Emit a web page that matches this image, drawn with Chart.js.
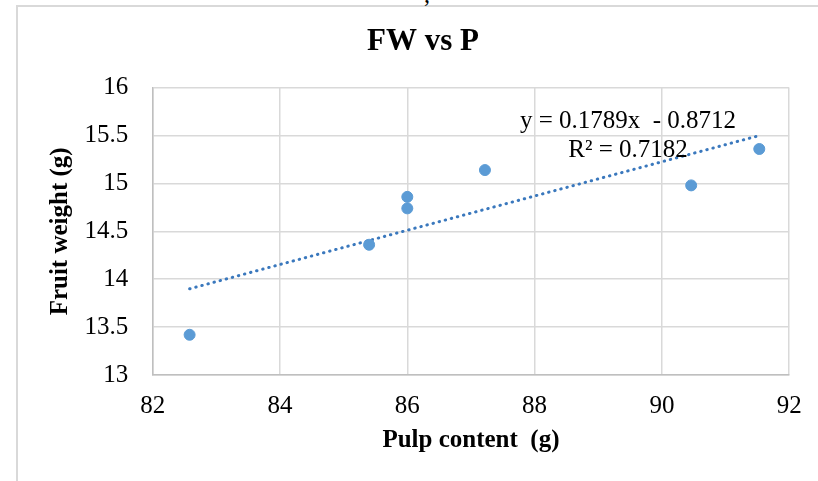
<!DOCTYPE html>
<html>
<head>
<meta charset="utf-8">
<script src="https://cdn.jsdelivr.net/npm/chart.js@4.4.1/dist/chart.umd.min.js"></script>
<style>
  html, body { margin: 0; padding: 0; background: #fff; overflow: hidden; }
  #wrap { position: relative; width: 818px; height: 481px; }
  #frame {
    position: absolute; left: 16px; top: 5px; right: -10px; bottom: -10px;
    border-left: 2px solid #d9d9d9; border-top: 2px solid #d9d9d9;
  }
  #stray {
    position: absolute; left: 424px; top: -19px;
    font: 24px "Liberation Serif", serif; color: #000;
  }
  canvas { position: absolute; left: 0; top: 0; }
</style>
</head>
<body>
<div id="wrap">
  <div id="frame"></div>
  <div id="stray">,</div>
  <canvas id="fwChart" width="818" height="481"></canvas>
</div>
<script>
// values
const pulpContent = [82.58, 85.40, 86.00, 86.00, 87.22, 90.46, 91.53];
const fruitWeight = [13.42, 14.36, 14.86, 14.74, 15.14, 14.98, 15.36];
// trendline end points (as drawn)
const trendX = [82.58, 91.53];
const trendY = [13.90, 15.50];
// axis ticks
const xTicks = [82, 84, 86, 88, 90, 92];
const yTicks = [13, 13.5, 14, 14.5, 15, 15.5, 16];
const eqLines = ['y = 0.1789x  - 0.8712', 'R\u00b2 = 0.7182'];

const serif = '"Liberation Serif", "Times New Roman", serif';

const trendLabel = {
    id: 'trendLabel',
    afterDatasetsDraw(chart) {
        const ctx = chart.ctx;
        ctx.save();
        ctx.font = '25px ' + serif;
        ctx.fillStyle = '#000';
        ctx.textAlign = 'center';
        ctx.textBaseline = 'middle';
        ctx.fillText(eqLines[0], 628, 121);
        ctx.fillText(eqLines[1], 628, 150);
        ctx.restore();
    }
};

const ctx = document.getElementById('fwChart').getContext('2d');
new Chart(ctx, {
    type: 'scatter',
    data: {
        datasets: [
            {
                label: 'FW',
                data: pulpContent.map((x, i) => ({x: x, y: fruitWeight[i]})),
                backgroundColor: '#5b9bd5',
                borderColor: '#5b9bd5',
                borderWidth: 1,
                pointRadius: 5.5,
                order: 1
            },
            {
                label: 'Trend',
                data: trendX.map((x, i) => ({x: x, y: trendY[i]})),
                showLine: true,
                borderColor: '#3a78bd',
                borderWidth: 3,
                borderDash: [0.5, 5.8],
                borderCapStyle: 'round',
                pointRadius: 0,
                fill: false,
                order: 2
            }
        ]
    },
    options: {
        responsive: false,
        animation: false,
        layout: { padding: { left: 53.3, right: 25.3, top: 0, bottom: 0 } },
        plugins: {
            legend: { display: false },
            tooltip: { enabled: false },
            title: {
                display: true,
                text: 'FW vs P',
                color: '#000',
                font: { family: serif, size: 31, weight: 'bold', lineHeight: 1.2 },
                padding: { top: 23.1, bottom: 27.4 }
            }
        },
        scales: {
            x: {
                type: 'linear',
                min: 82,
                max: 92,
                afterBuildTicks: s => { s.ticks = xTicks.map(v => ({value: v})); },
                afterFit: s => { s.height = 106; },
                grid: { color: '#d9d9d9', lineWidth: 1.5, drawTicks: false },
                border: { color: '#bfbfbf', width: 1.5 },
                ticks: {
                    color: '#000',
                    padding: 16.3,
                    font: { family: serif, size: 25, lineHeight: 1.2 },
                    callback: v => String(v)
                },
                title: {
                    display: true,
                    text: 'Pulp content  (g)',
                    color: '#000',
                    font: { family: serif, size: 25, weight: 'bold', lineHeight: 1.2 },
                    padding: { top: 0, bottom: 25.5 }
                }
            },
            y: {
                type: 'linear',
                min: 13,
                max: 16,
                afterBuildTicks: s => { s.ticks = yTicks.map(v => ({value: v})); },
                afterFit: s => { s.width = 99.4; },
                grid: { color: '#d9d9d9', lineWidth: 1.5, drawTicks: false },
                border: { color: '#bfbfbf', width: 1.5 },
                ticks: {
                    color: '#000',
                    padding: 24.4,
                    font: { family: serif, size: 25, lineHeight: 1.2 },
                    callback: v => String(v)
                },
                title: {
                    display: true,
                    text: 'Fruit weight (g)',
                    color: '#000',
                    font: { family: serif, size: 25, weight: 'bold', lineHeight: 1.2 },
                    padding: { top: -7.4, bottom: 0 }
                }
            }
        }
    },
    plugins: [trendLabel]
});
</script>
</body>
</html>
